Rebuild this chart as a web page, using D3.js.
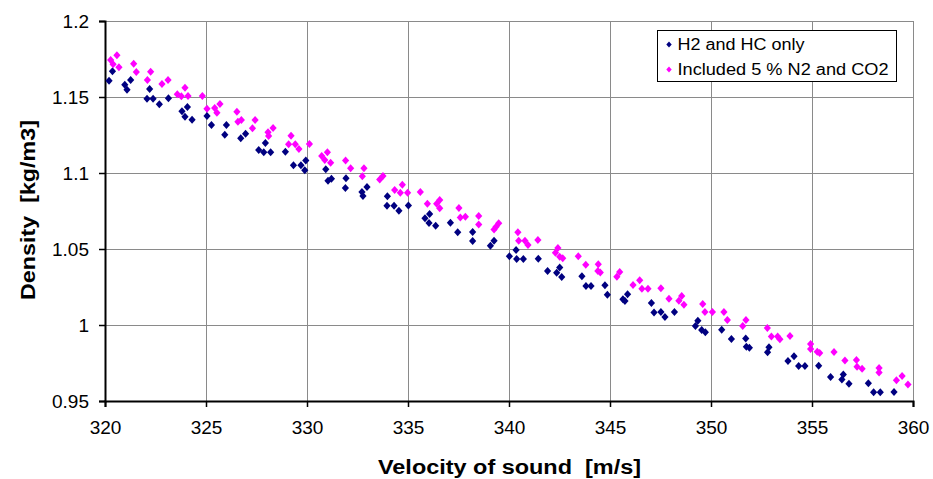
<!DOCTYPE html>
<html>
<head>
<meta charset="utf-8">
<script src="https://cdn.jsdelivr.net/npm/d3@7"></script>
<style>
  body { margin: 0; background: #fff; }
  svg { display: block; font-family: 'Liberation Sans', Arial, sans-serif; }
</style>
</head>
<body>
<div id="chart"></div>
<script>
// velocity of sound [m/s] and density [kg/m3]
const hcVelocity = [320.20, 320.37, 320.98, 321.09, 321.27, 322.08, 322.21, 322.38, 322.69, 323.14,
  323.81, 323.96, 324.08, 324.31, 325.05, 325.27, 325.93, 326.01, 326.72, 326.96,
  327.61, 327.86, 327.94, 328.20, 328.93, 329.33, 329.70, 329.89, 329.94, 330.93,
  331.04, 331.21, 331.93, 331.90, 332.72, 332.77, 332.97, 333.98, 333.96, 334.31,
  334.55, 335.02, 335.84, 336.07, 336.04, 336.37, 337.10, 337.46, 338.20, 338.20,
  339.08, 339.26, 340.02, 340.35, 340.38, 340.71, 341.45, 341.91, 342.36, 342.51,
  342.61, 343.61, 343.81, 344.06, 344.75, 344.87, 345.64, 345.74, 345.87, 347.05,
  347.18, 347.52, 347.72, 348.19, 349.23, 349.35, 349.54, 349.72, 350.53, 351.01,
  351.72, 351.75, 351.90, 352.87, 352.80, 353.81, 354.11, 354.34, 354.65, 355.33,
  355.92, 356.48, 356.55, 356.83, 357.79, 358.05, 358.38, 359.06];
const hcDensity = [1.1607, 1.1669, 1.1581, 1.1548, 1.1612, 1.1489, 1.1553, 1.1489, 1.1452, 1.1491,
  1.1406, 1.1370, 1.1434, 1.1351, 1.1375, 1.1316, 1.1252, 1.1316, 1.1228, 1.1258,
  1.1151, 1.1136, 1.1197, 1.1136, 1.1140, 1.1051, 1.1051, 1.1018, 1.1083, 1.1024,
  1.0949, 1.0962, 1.0965, 1.0901, 1.0875, 1.0848, 1.0908, 1.0847, 1.0785, 1.0785,
  1.0752, 1.0787, 1.0702, 1.0730, 1.0671, 1.0653, 1.0673, 1.0610, 1.0612, 1.0552,
  1.0521, 1.0554, 1.0452, 1.0493, 1.0434, 1.0434, 1.0436, 1.0355, 1.0344, 1.0379,
  1.0316, 1.0320, 1.0256, 1.0256, 1.0261, 1.0199, 1.0169, 1.0158, 1.0202, 1.0144,
  1.0083, 1.0085, 1.0052, 1.0085, 0.9993, 1.0028, 0.9967, 0.9952, 0.9969, 0.9908,
  0.9912, 0.9857, 0.9850, 0.9853, 0.9820, 0.9763, 0.9794, 0.9730, 0.9730, 0.9732,
  0.9658, 0.9642, 0.9675, 0.9613, 0.9616, 0.9557, 0.9557, 0.9559];

const n2Velocity = [320.28, 320.40, 320.59, 320.69, 321.42, 321.55, 322.10, 322.26, 322.82, 323.12,
  323.58, 323.78, 323.96, 324.11, 324.82, 325.05, 325.43, 325.54, 325.69, 326.53,
  326.58, 326.75, 327.30, 327.43, 328.07, 328.10, 328.32, 329.09, 329.21, 329.42,
  329.60, 330.12, 330.73, 330.88, 331.01, 331.17, 331.91, 332.16, 332.74, 332.82,
  333.60, 333.76, 334.34, 334.62, 334.72, 334.98, 335.61, 335.96, 336.42, 336.57,
  336.57, 337.52, 337.59, 337.84, 338.50, 338.50, 339.26, 339.36, 339.49, 340.44,
  340.48, 340.79, 340.94, 341.43, 342.30, 342.42, 342.51, 342.66, 343.43, 343.80,
  344.42, 344.40, 344.52, 345.34, 345.48, 346.14, 346.47, 346.58, 346.88, 347.52,
  347.92, 348.41, 348.55, 348.66, 349.59, 349.70, 350.07, 350.64, 350.81, 351.57,
  351.73, 352.79, 352.99, 353.30, 353.41, 353.91, 354.93, 354.93, 355.26, 355.38,
  356.09, 356.63, 357.20, 357.23, 357.48, 358.32, 358.32, 359.18, 359.46, 359.75];
const n2Density = [1.1743, 1.1715, 1.1774, 1.1695, 1.1719, 1.1664, 1.1612, 1.1666, 1.1585, 1.1612,
  1.1518, 1.1505, 1.1561, 1.1507, 1.1507, 1.1423, 1.1428, 1.1397, 1.1454, 1.1403,
  1.1337, 1.1349, 1.1294, 1.1349, 1.1268, 1.1243, 1.1296, 1.1189, 1.1245, 1.1189,
  1.1158, 1.1191, 1.1112, 1.1085, 1.1136, 1.1068, 1.1083, 1.1031, 1.0978, 1.1031,
  1.0958, 1.0980, 1.0888, 1.0870, 1.0923, 1.0870, 1.0875, 1.0798, 1.0798, 1.0822,
  1.0768, 1.0770, 1.0708, 1.0712, 1.0717, 1.0662, 1.0629, 1.0646, 1.0669, 1.0610,
  1.0554, 1.0554, 1.0526, 1.0559, 1.0475, 1.0506, 1.0449, 1.0439, 1.0452, 1.0396,
  1.0399, 1.0355, 1.0346, 1.0318, 1.0348, 1.0263, 1.0294, 1.0239, 1.0239, 1.0241,
  1.0173, 1.0160, 1.0190, 1.0133, 1.0138, 1.0085, 1.0085, 1.0085, 1.0033, 0.9993,
  1.0033, 0.9980, 0.9925, 0.9925, 0.9906, 0.9927, 0.9875, 0.9842, 0.9824, 0.9815,
  0.9822, 0.9767, 0.9769, 0.9725, 0.9712, 0.9717, 0.9688, 0.9636, 0.9664, 0.9609];

const seriesNames = ['H2 and HC only', 'Included 5 % N2 and CO2'];
const seriesColors = ['#000080', '#ff00ff'];
const xTicks = [320, 325, 330, 335, 340, 345, 350, 355, 360];
const yTicks = [0.95, 1, 1.05, 1.1, 1.15, 1.2];

const
  width = 933,
  height = 479,
  pad = { top: 21, right: 20, bottom: 78, left: 105 },
  w = width - pad.left - pad.right,
  h = height - pad.top - pad.bottom;

const svg = d3.select('#chart')
  .append('svg')
  .attr('width', width)
  .attr('height', height);

const x = d3.scaleLinear().domain([320, 360]).range([0, w]);
const y = d3.scaleLinear().domain([0.95, 1.2]).range([h, 0]);

const g = svg.append('g')
  .attr('transform', 'translate(' + pad.left + ',' + pad.top + ')');

// grid
g.append('g')
  .selectAll('line')
  .data(xTicks.slice(1))
  .enter().append('line')
  .attr('x1', d => Math.round(x(d)) + 0.5)
  .attr('x2', d => Math.round(x(d)) + 0.5)
  .attr('y1', 0)
  .attr('y2', h)
  .attr('stroke', '#8a8a8a')
  .attr('stroke-width', 1);

g.append('g')
  .selectAll('line')
  .data(yTicks.slice(1))
  .enter().append('line')
  .attr('x1', 0)
  .attr('x2', w)
  .attr('y1', d => Math.round(y(d)) + 0.5)
  .attr('y2', d => Math.round(y(d)) + 0.5)
  .attr('stroke', '#8a8a8a')
  .attr('stroke-width', 1);

// axes
const xAxis = g.append('g')
  .attr('transform', 'translate(0,' + h + ')')
  .call(d3.axisBottom(x).tickValues(xTicks).tickSize(6).tickPadding(14).tickFormat(d3.format('d')));

const yAxis = g.append('g')
  .call(d3.axisLeft(y).tickValues(yTicks).tickSize(6).tickPadding(10).tickFormat(d => String(+d.toFixed(2))));

[xAxis, yAxis].forEach(a => {
  a.select('.domain').attr('stroke', '#000').attr('stroke-width', 2);
  a.selectAll('.tick line').attr('stroke', '#000').attr('stroke-width', 1.5);
  a.selectAll('.tick text')
    .attr('fill', '#000')
    .attr('font-size', 19)
    .attr('font-family', "'Liberation Sans', Arial, sans-serif");
});

// points
const diamond = 'M0,-4L3.6,0L0,4L-3.6,0Z';
const series = [
  { vel: hcVelocity, den: hcDensity },
  { vel: n2Velocity, den: n2Density }
];

series.forEach((s, k) => {
  g.append('g')
    .selectAll('path')
    .data(s.vel.map((v, i) => [v, s.den[i]]))
    .enter().append('path')
    .attr('d', diamond)
    .attr('transform', d => 'translate(' + x(d[0]) + ',' + y(d[1]) + ')')
    .attr('fill', seriesColors[k]);
});

// axis titles
svg.append('text')
  .attr('x', 378)
  .attr('y', 474)
  .attr('font-size', 20)
  .attr('font-weight', 'bold')
  .attr('textLength', 263)
  .attr('lengthAdjust', 'spacingAndGlyphs')
  .text('Velocity of sound\u00a0 [m/s]');

svg.append('text')
  .attr('transform', 'translate(35,300) rotate(-90)')
  .attr('font-size', 20)
  .attr('font-weight', 'bold')
  .attr('textLength', 180)
  .attr('lengthAdjust', 'spacingAndGlyphs')
  .text('Density\u00a0 [kg/m3]');

// legend
const legend = svg.append('g')
  .attr('transform', 'translate(657.5,30.5)');

legend.append('rect')
  .attr('width', 239)
  .attr('height', 51)
  .attr('fill', '#fff')
  .attr('stroke', '#000')
  .attr('stroke-width', 1);

const legendWidths = [127, 211];

seriesNames.forEach((name, i) => {
  legend.append('path')
    .attr('d', 'M0,-3L2.7,0L0,3L-2.7,0Z')
    .attr('transform', 'translate(11.5,' + (14 + i * 25) + ')')
    .attr('fill', seriesColors[i]);

  legend.append('text')
    .attr('x', 20)
    .attr('y', 19.5 + i * 25)
    .attr('font-size', 16)
    .attr('textLength', legendWidths[i])
    .attr('lengthAdjust', 'spacingAndGlyphs')
    .text(name);
});
</script>
</body>
</html>
